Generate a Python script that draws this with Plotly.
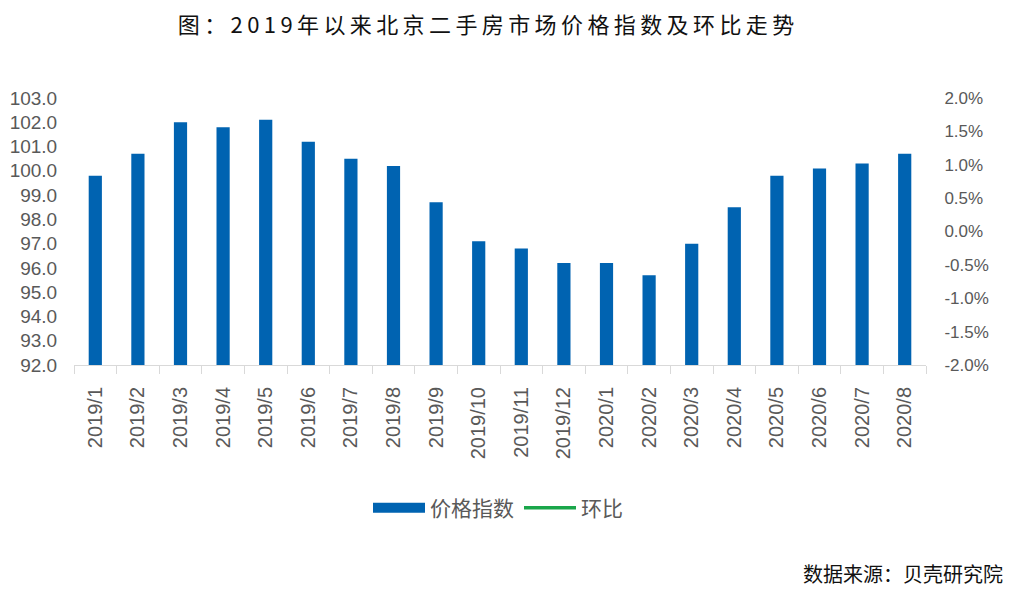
import plotly.graph_objects as go

months = ["2019/1", "2019/2", "2019/3", "2019/4", "2019/5", "2019/6", "2019/7",
          "2019/8", "2019/9", "2019/10", "2019/11", "2019/12", "2020/1", "2020/2",
          "2020/3", "2020/4", "2020/5", "2020/6", "2020/7", "2020/8"]
price_index = [99.8, 100.7, 102.0, 101.8, 102.1, 101.2, 100.5, 100.2, 98.7, 97.1,
               96.8, 96.2, 96.2, 95.7, 97.0, 98.5, 99.8, 100.1, 100.3, 100.7]
mom_change = [None] * len(months)  # 环比 line not visible in the reference

left_ticks = [92 + i for i in range(12)]
right_ticks = [-0.02 + 0.005 * i for i in range(9)]

title_text = "图：2019年以来北京二手房市场价格指数及环比走势"

FONT = "Liberation Sans, Arial, Noto Sans CJK SC, sans-serif"
CJK = "Noto Sans CJK SC, Liberation Sans, sans-serif"
GRAY = "#595959"
BLUE = "#0063B1"
GREEN = "#1AA64A"

W, H = 1020, 600
L, T, PW, PH = 66, 90, 852, 267
R, B = W - L - PW, H - T - PH
plot_bottom = T + PH

fig = go.Figure()
fig.add_trace(go.Bar(x=months, y=price_index, name="价格指数", showlegend=False,
                     marker=dict(color=BLUE, line=dict(width=0))))
# legend proxy giving the wide rectangle swatch of the bar series
fig.add_trace(go.Scatter(x=months, y=[None] * len(months), name="价格指数",
                         mode="lines", line=dict(color=BLUE, width=13)))
fig.add_trace(go.Scatter(x=months, y=mom_change, name="环比", yaxis="y2",
                         mode="lines", line=dict(color=GREEN, width=3.5)))

fig.update_layout(
    width=W, height=H,
    paper_bgcolor="white", plot_bgcolor="white",
    margin=dict(l=L, r=R, t=T, b=B, autoexpand=False),
    bargap=0.69,
    font=dict(family=FONT, color=GRAY, size=16),
    title=dict(text="\u2009".join(title_text),
               x=(486 - 8) / W, xanchor="center", y=1 - 17 / H, yanchor="middle",
               font=dict(family=CJK, size=22, color="#111111")),
    xaxis=dict(type="category", tickangle=-90, showline=True, linecolor="#d9d9d9",
               linewidth=1, ticks="outside", tickson="boundaries", ticklen=8,
               tickcolor="#d9d9d9", showgrid=False, ticklabelstandoff=13,
               tickfont=dict(size=20, color=GRAY)),
    yaxis=dict(range=[92, 103], tickvals=left_ticks,
               ticktext=[f"{v:.1f}" for v in left_ticks], showgrid=False,
               zeroline=False, showline=False, ticks="outside", ticklen=12,
               tickcolor="rgba(0,0,0,0)", tickfont=dict(size=19, color=GRAY)),
    yaxis2=dict(range=[-0.02, 0.02], overlaying="y", side="right",
                tickvals=right_ticks,
                ticktext=[f"{v*100:.1f}%" for v in right_ticks],
                showgrid=False, zeroline=False, showline=False, ticks="outside",
                ticklen=14, tickcolor="rgba(0,0,0,0)",
                tickfont=dict(size=17, color=GRAY)),
    legend=dict(orientation="h", x=(360 - L) / PW, xanchor="left",
                y=(plot_bottom - 500) / PH, yanchor="middle",
                font=dict(family=CJK, size=21, color=GRAY), itemwidth=52,
                tracegroupgap=0, bgcolor="rgba(0,0,0,0)"),
    showlegend=True,
)
fig.add_annotation(text="数据来源：贝壳研究院", xref="paper", yref="paper",
                   x=(997 - L) / PW, xanchor="right",
                   y=(plot_bottom - 565) / PH, yanchor="middle", showarrow=False,
                   font=dict(family=CJK, size=20, color="#111111"))

fig.write_html("out.html")
